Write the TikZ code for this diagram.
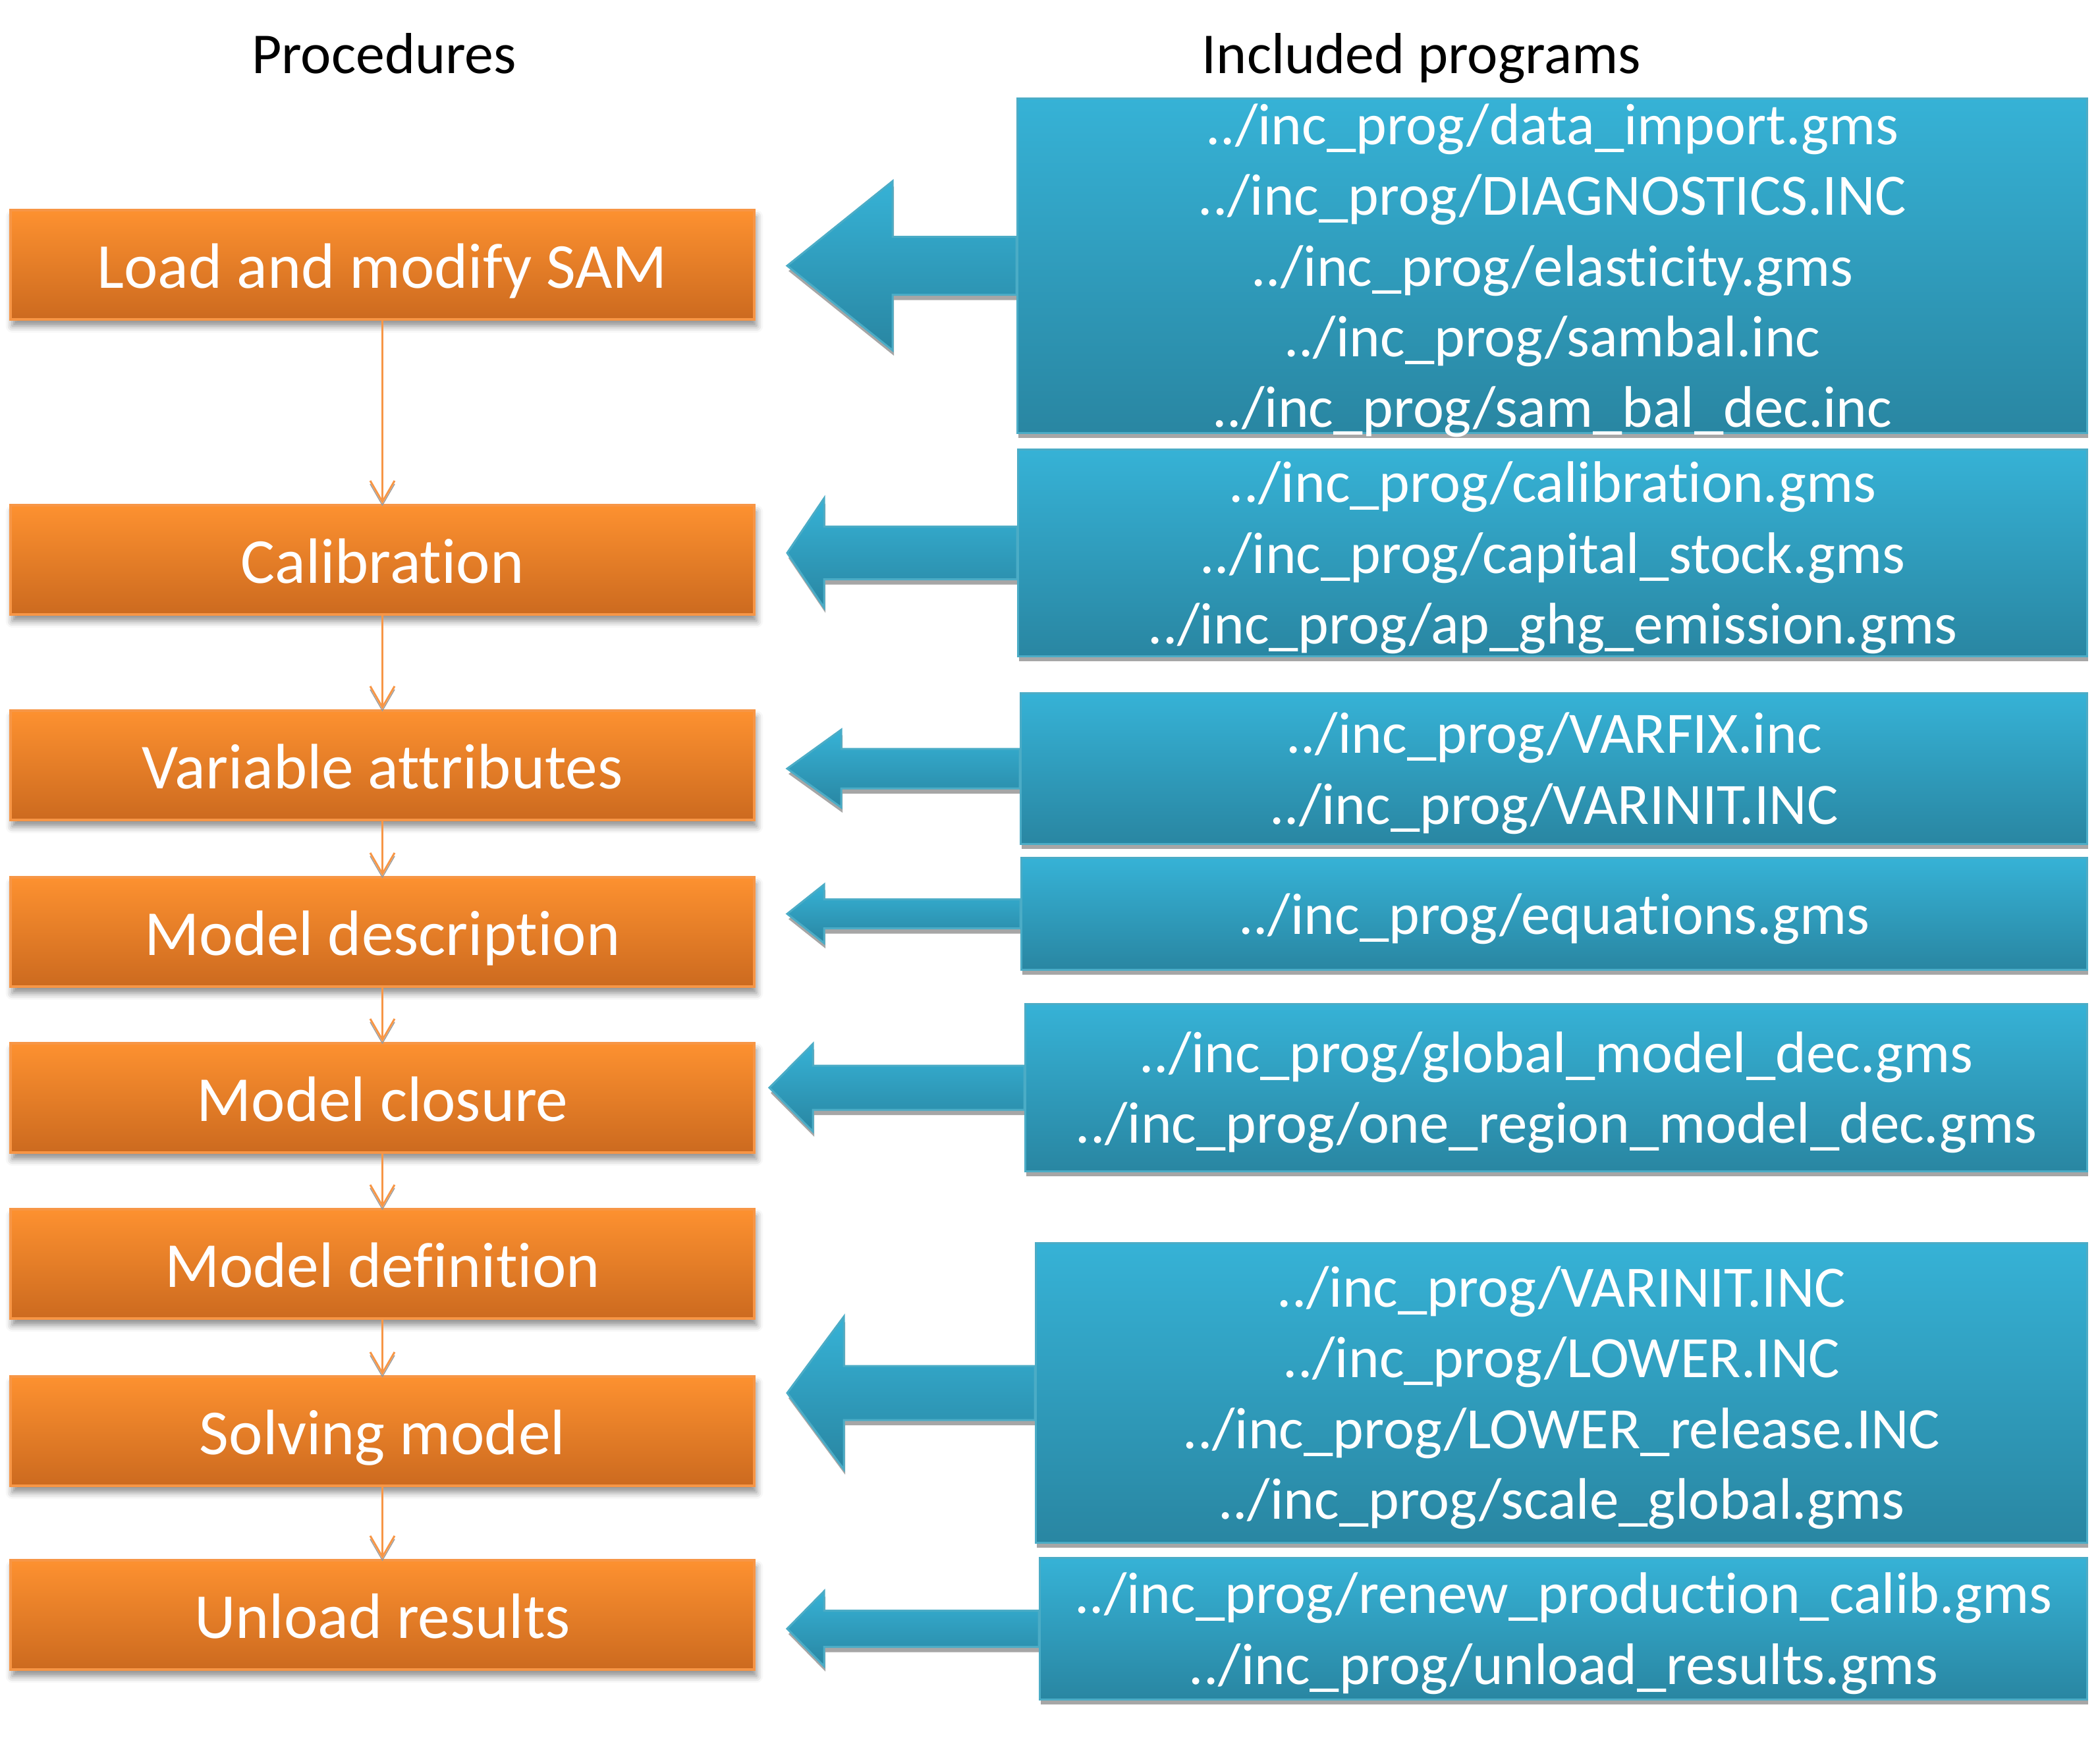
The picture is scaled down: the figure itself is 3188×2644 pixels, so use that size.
\documentclass[tikz,border=0pt]{standalone}
\usepackage{fontspec}
\setmainfont{Carlito}[Ligatures=NoCommon]
\usetikzlibrary{arrows.meta,shadows,shadows.blur,backgrounds}

\definecolor{procfill}{HTML}{FD9130}
\definecolor{procdark}{HTML}{CC6A1F}
\definecolor{procline}{HTML}{F79646}
\definecolor{progfill}{HTML}{36B2D6}
\definecolor{progdark}{HTML}{2986A2}
\definecolor{progline}{HTML}{4BACC6}

% block arrow from a program box: #1 box, #2 shaft length, #3 head length, #4 head half height, #5 shaft half height
\newcommand{\feedarrow}[5]{%
  \path[feed] (#1.west) ++(0,#5) -- ++(-#2,0) -- ++(0,#4-#5) -- ++(-#3,-#4)
    -- ++(#3,-#4) -- ++(0,#4-#5) -- ++(#2,0) -- cycle;}

\begin{document}
\begin{tikzpicture}[x=0.01cm,y=-0.01cm,
    proc/.style={draw=procline, line width=0.04cm, top color=procfill, bottom color=procdark,
      minimum width=11.29cm, minimum height=1.66cm, text=white,
      font=\fontsize{27.7}{33}\selectfont, text height=24.9pt, text depth=5pt,
      blur shadow={shadow xshift=0.03cm, shadow yshift=-0.1cm, shadow blur radius=0.1cm, shadow opacity=45}},
    prog/.style={draw=progline, line width=0.03cm, top color=progfill, bottom color=progdark,
      text=white, align=center, inner sep=0pt, font=\fontsize{25.3}{30.5}\selectfont,
      text depth=0.2pt,
      drop shadow={shadow xshift=0.01cm, shadow yshift=-0.08cm, fill=black!35, opacity=1}},
    feed/.style={draw=progline, line width=0.03cm, top color=progfill, bottom color=progdark,
      drop shadow={shadow xshift=0.02cm, shadow yshift=-0.08cm, fill=black!35, opacity=1}},
    flow/.style={draw=procline, line width=0.03cm, -{Straight Barb[length=0.32cm,width=0.37cm]},
      preaction={draw=black!40, transform canvas={yshift=-0.05cm}}},
    head/.style={font=\fontsize{25}{30}\selectfont, anchor=base}]
  \useasboundingbox (0,0) rectangle (3188,2644);

  \node[head] (prochead) at (583,111) {Procedures};
  \node[head] (proghead) at (2158,111) {Included programs};

  % procedures
  \node[proc] (load)     at (580.5,402)  {Load and modify SAM};
  \node[proc] (calib)    at (580.5,850)  {Calibration};
  \node[proc] (varattr)  at (580.5,1162) {Variable attributes};
  \node[proc] (moddesc)  at (580.5,1415) {Model description};
  \node[proc] (modclose) at (580.5,1667) {Model closure};
  \node[proc] (moddef)   at (580.5,1919) {Model definition};
  \node[proc] (solve)    at (580.5,2173) {Solving model};
  \node[proc] (unload)   at (580.5,2452) {Unload results};

  \foreach \a/\b in {load/calib,calib/varattr,varattr/moddesc,moddesc/modclose,
                     modclose/moddef,moddef/solve,solve/unload}
    \draw[flow] (\a.south) -- (\b.north);

  % included programs
  \node[prog, minimum width=16.23cm, minimum height=5.07cm] (incload) at (2356.5,403.5)
    {../inc\_prog/data\_import.gms\\../inc\_prog/DIAGNOSTICS.INC\\../inc\_prog/elasticity.gms\\
     ../inc\_prog/sambal.inc\\../inc\_prog/sam\_bal\_dec.inc};
  \node[prog, minimum width=16.22cm, minimum height=3.13cm] (inccalib) at (2357,839.5)
    {../inc\_prog/calibration.gms\\../inc\_prog/capital\_stock.gms\\../inc\_prog/ap\_ghg\_emission.gms};
  \node[prog, minimum width=16.18cm, minimum height=2.28cm] (incvar) at (2359,1167)
    {../inc\_prog/VARFIX.inc\\../inc\_prog/VARINIT.INC};
  \node[prog, minimum width=16.17cm, minimum height=1.69cm] (inceq) at (2359.5,1387.5)
    {../inc\_prog/equations.gms};
  \node[prog, minimum width=16.11cm, minimum height=2.53cm] (incclose) at (2362.5,1651.5)
    {../inc\_prog/global\_model\_dec.gms\\../inc\_prog/one\_region\_model\_dec.gms};
  \node[prog, minimum width=15.95cm, minimum height=4.54cm] (incsolve) at (2370.5,2115)
    {../inc\_prog/VARINIT.INC\\../inc\_prog/LOWER.INC\\../inc\_prog/LOWER\_release.INC\\
     ../inc\_prog/scale\_global.gms};
  \node[prog, minimum width=15.89cm, minimum height=2.14cm] (incunload) at (2373.5,2473)
    {../inc\_prog/renew\_production\_calib.gms\\../inc\_prog/unload\_results.gms};

  \begin{scope}[on background layer]
    \feedarrow{incload}{188}{160}{128.5}{44}
    \feedarrow{inccalib}{293}{56}{83}{40}
    \feedarrow{incvar}{271}{82}{59}{30}
    \feedarrow{inceq}{298}{56}{44.5}{22}
    \feedarrow{incclose}{321}{66}{66.5}{33.5}
    \feedarrow{incsolve}{290}{86}{116}{41}
    \feedarrow{incunload}{326}{56}{57}{27.5}
  \end{scope}
\end{tikzpicture}
\end{document}
